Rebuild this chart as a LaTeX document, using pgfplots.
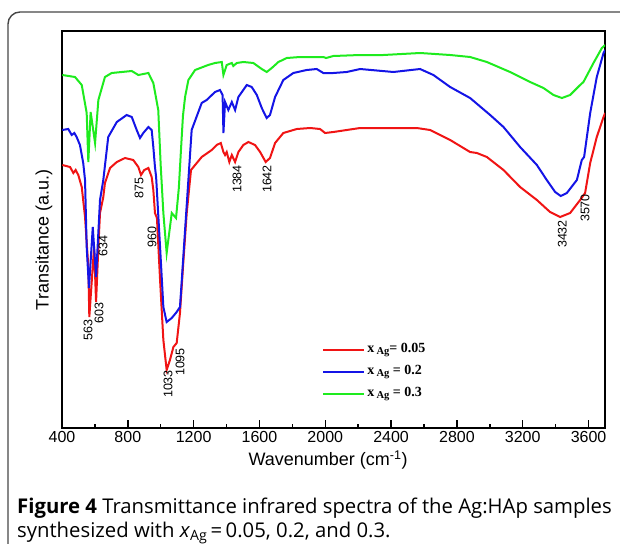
\documentclass[border=0pt]{standalone}
\usepackage{fontspec}
\setmainfont{Liberation Sans}
\newfontfamily\legfont{Liberation Serif}
\newfontfamily\capfont{Open Sans}
\usepackage{pgfplots}
\usepackage{pgfplotstable}
\pgfplotsset{compat=1.18}

\definecolor{cRed}{RGB}{240,20,20}
\definecolor{cBlue}{RGB}{20,20,230}
\definecolor{cGreen}{RGB}{30,235,30}
\definecolor{frameGray}{RGB}{70,70,70}

% x_Ag = 0.3
\pgfplotstableread{
w T
402 353
479 351
520 343
550 315
560 266
574 316
601 285
621 328
661 351
702 355
824 357
864 353
925 355
955 345
965 336
985 318
1000 262
1016 215
1036 175
1067 215
1093 210
1110 240
1122 275
1135 312
1148 331
1168 348
1209 358
1288 363
1330 365
1371 366
1381 353
1401 363
1432 365
1441 362
1462 365
1502 366
1563 365
1614 359
1644 356
1675 360
1715 366
1766 370
1847 371
1988 371
2005 370
2049 372
2212 373
2353 373
2576 375
2759 373
2880 371
2982 366
3123 356
3245 346
3326 340
3387 333
3438 330
3488 333
3549 343
3569 346
3630 365
3681 380
3701 383
}\greendata

% x_Ag = 0.2
\pgfplotstableread{
w T
402 298
438 299
459 293
475 295
489 291
509 283
529 265
540 248
550 181
564 140
587 201
607 151
631 228
651 248
681 291
733 306
793 313
824 311
854 298
874 290
894 295
925 301
945 298
955 281
965 261
972 251
996 181
1016 121
1036 106
1067 110
1097 116
1117 121
1128 148
1148 198
1168 248
1188 298
1249 325
1279 328
1330 336
1360 338
1376 333
1381 295
1391 326
1411 318
1432 326
1452 318
1472 331
1523 343
1553 341
1584 333
1614 320
1644 310
1664 313
1695 331
1745 348
1806 355
1887 358
1948 359
1988 355
2049 355
2130 356
2212 359
2414 356
2576 359
2657 353
2759 341
2880 330
3002 313
3083 301
3184 281
3286 263
3346 248
3397 236
3431 232
3468 235
3529 248
3559 268
3573 271
3610 315
3650 351
3691 375
3701 378
}\bluedata

% x_Ag = 0.05
\pgfplotstableread{
w T
402 263
449 261
469 255
483 258
499 253
520 241
540 211
560 161
566 111
595 181
607 126
621 181
631 215
651 231
661 245
692 260
733 266
783 270
833 268
864 261
880 253
900 258
925 260
945 251
955 238
965 215
977 210
996 148
1016 88
1036 58
1056 68
1077 81
1097 85
1117 115
1137 165
1158 215
1184 258
1249 271
1310 278
1340 283
1365 285
1381 276
1391 273
1401 276
1417 266
1432 273
1452 266
1472 276
1502 283
1533 286
1573 283
1604 276
1638 266
1664 270
1695 285
1745 295
1827 299
1908 300
1968 299
1999 295
2049 296
2130 298
2212 300
2353 300
2556 300
2637 298
2759 288
2880 276
2921 275
2982 271
3083 258
3184 241
3286 228
3366 216
3427 211
3488 215
3549 228
3579 235
3610 265
3650 291
3691 311
3701 315
}\reddata

\newcommand\annfont{\fontsize{12.5}{13}\selectfont}

\begin{document}
\begin{tikzpicture}
\useasboundingbox (0pt,0pt) rectangle (620pt,-543pt);
\draw[frameGray, line width=1.4pt, rounded corners=12pt]
  (8pt,-560pt) -- (8pt,-12pt) -- (640pt,-12pt);

\begin{axis}[
  at={(62pt,-428pt)}, anchor=south west,
  scale only axis, width=543pt, height=397pt,
  xmin=400, xmax=3700, ymin=0, ymax=397,
  axis line style={line width=1.8pt},
  xtick={400,800,...,3600},
  minor x tick num=1,
  ytick=\empty,
  xtick pos=bottom,
  tick align=inside,
  major tick length=8pt, minor tick length=4pt,
  every tick/.style={black, line width=1.5pt},
  /pgf/number format/assume math mode=true,
  /pgf/number format/1000 sep={},
  xticklabel style={font=\fontsize{16}{16}\selectfont},
  xlabel={Wavenumber (cm\textsuperscript{-1})},
  xlabel style={font=\fontsize{18}{18}\selectfont,
    at={(axis description cs:0.49,-0.08)}, anchor=center},
  ylabel={Transitance (a.u.)},
  ylabel style={font=\fontsize{18}{18}\selectfont,
    at={(axis description cs:-0.033,0.474)}, anchor=center},
  legend style={draw=none, fill=none,
    at={(axis description cs:0.479,0.222)}, anchor=north west,
    inner sep=0pt, row sep=3pt,
    font=\legfont\bfseries\fontsize{14}{14}\selectfont,
    nodes={inner sep=2pt, text height=10pt, text depth=5pt}},
  legend cell align=left,
  legend image code/.code={\draw[#1, line width=2pt] (0pt,0pt) -- (41pt,0pt);},
]
\addplot[cRed, line width=2pt] table[x=w, y=T] {\reddata};
\addlegendentry{x\,\raisebox{-0.4ex}{\fontsize{10.5}{10.5}\selectfont Ag}= 0.05}
\addplot[cBlue, line width=2pt] table[x=w, y=T] {\bluedata};
\addlegendentry{x\,\raisebox{-0.4ex}{\fontsize{10.5}{10.5}\selectfont Ag} = 0.2}
\addplot[cGreen, line width=2pt] table[x=w, y=T] {\greendata};
\addlegendentry{x\,\raisebox{-0.4ex}{\fontsize{10.5}{10.5}\selectfont Ag} = 0.3}

\node[rotate=90, font=\annfont] at (axis cs:558,98) {563};
\node[rotate=90, font=\annfont] at (axis cs:625,115) {603};
\node[rotate=90, font=\annfont] at (axis cs:649,182) {634};
\node[rotate=90, font=\annfont] at (axis cs:868,240) {875};
\node[rotate=90, font=\annfont] at (axis cs:947,191) {960};
\node[rotate=90, font=\annfont] at (axis cs:1044,44) {1033};
\node[rotate=90, font=\annfont] at (axis cs:1117,66) {1095};
\node[rotate=90, font=\annfont] at (axis cs:1464,249) {1384};
\node[rotate=90, font=\annfont] at (axis cs:1646,249) {1642};
\node[rotate=90, font=\annfont] at (axis cs:3440,194) {3432};
\node[rotate=90, font=\annfont] at (axis cs:3579,220) {3570};
\end{axis}

\node[anchor=base west, inner sep=0pt, font=\capfont\fontsize{20.3}{24}\selectfont]
  at (17pt,-513pt) {\textbf{Figure 4} Transmittance infrared spectra of the Ag:HAp samples};
\node[anchor=base west, inner sep=0pt, font=\capfont\fontsize{20.3}{24}\selectfont]
  at (17pt,-537pt) {synthesized with \textit{x}\textsubscript{Ag}\,=\,0.05, 0.2, and 0.3.};
\end{tikzpicture}
\end{document}
